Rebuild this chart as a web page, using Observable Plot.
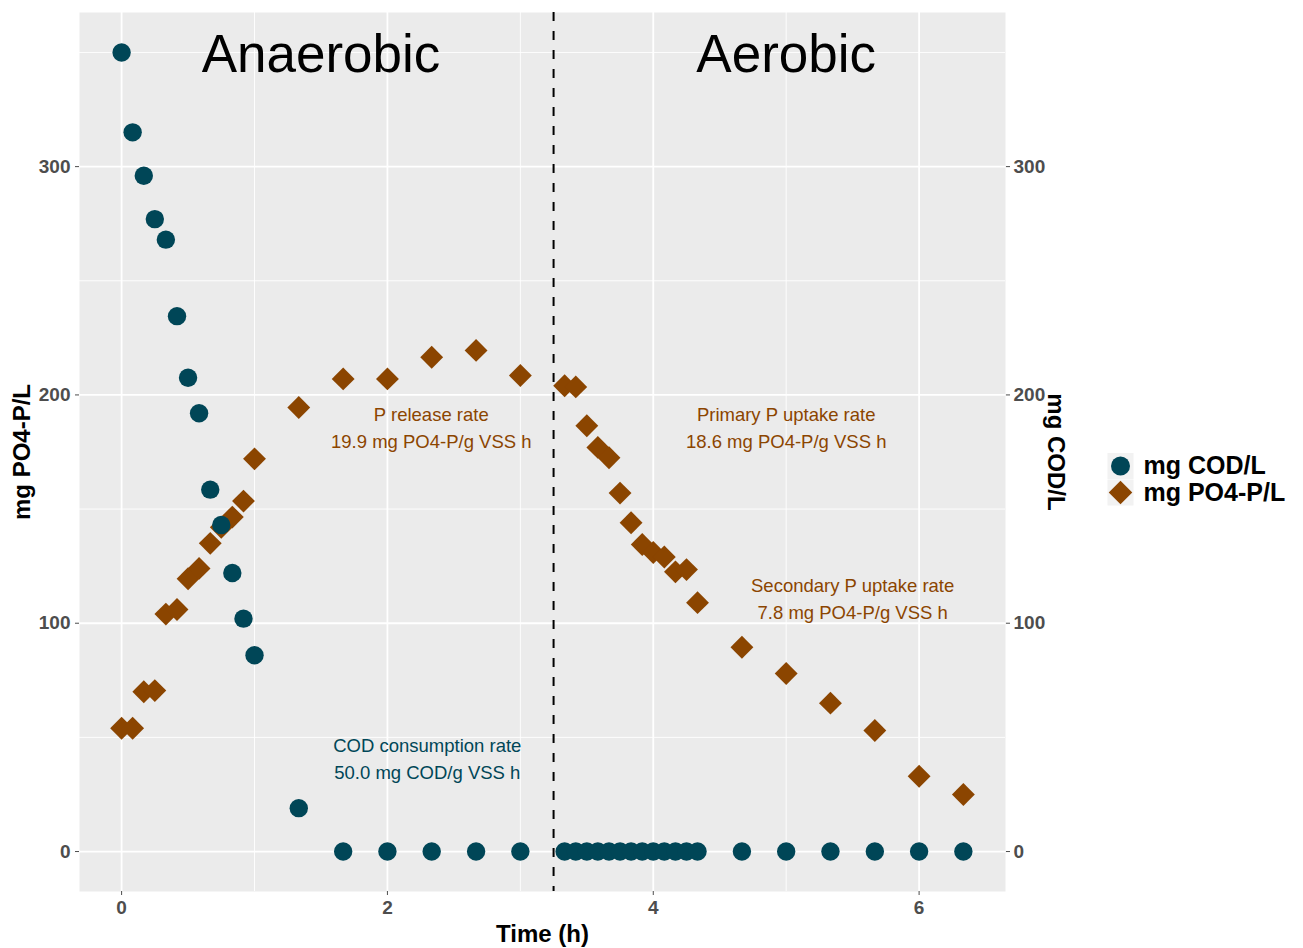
<!DOCTYPE html>
<html>
<head>
<meta charset="utf-8">
<script src="https://cdn.jsdelivr.net/npm/d3@7"></script>
<script src="https://cdn.jsdelivr.net/npm/@observablehq/plot@0.6"></script>
<style>
  html, body { margin: 0; padding: 0; background: #ffffff; }
  #chart svg { display: block; font-family: "Liberation Sans", Arial, Helvetica, sans-serif; }
</style>
</head>
<body>
<div id="chart"></div>
<script>
// ---- Data ----
const timeH = [0, 0.083, 0.167, 0.25, 0.333, 0.417, 0.5, 0.583, 0.667, 0.75, 0.833, 0.917, 1.0,
  1.333, 1.667, 2.0, 2.333, 2.667, 3.0, 3.333, 3.417, 3.5, 3.583, 3.667, 3.75, 3.833, 3.917,
  4.0, 4.083, 4.167, 4.25, 4.333, 4.667, 5.0, 5.333, 5.667, 6.0, 6.333];
const codValues = [350, 315, 296, 277, 268, 234.5, 207.5, 192, 158.5, 143, 122, 102, 86,
  19, 0, 0, 0, 0, 0, 0, 0, 0, 0, 0, 0, 0, 0,
  0, 0, 0, 0, 0, 0, 0, 0, 0, 0, 0];
const po4Values = [54, 54, 70, 70.5, 104, 106, 119.5, 124, 135, 142, 146.5, 153.5, 172,
  194.5, 207, 207, 216.5, 219.5, 208.5, 204, 203.5, 186.5, 177, 172.5, 157, 144, 134.5,
  131, 129, 122.5, 123.5, 109, 89.5, 78, 65, 53, 33, 25];
const seriesNames = ["mg COD/L", "mg PO4-P/L"];
const phaseLabels = ["Anaerobic", "Aerobic"];
const phaseX = [1.5, 5.0];
const phaseY = [349, 349];
const phaseSwitch = [3.25];
const rateLabels = [
  "P release rate\n19.9 mg PO4-P/g VSS h",
  "Primary P uptake rate\n18.6 mg PO4-P/g VSS h",
  "Secondary P uptake rate\n7.8 mg PO4-P/g VSS h",
  "COD consumption rate\n50.0 mg COD/g VSS h"
];
const rateX = [2.33, 5.0, 5.5, 2.3];
const rateY = [186.5, 186.5, 111.5, 41.3];
const rateSeries = [1, 1, 1, 0];
const xTicks = [0, 2, 4, 6];
const xMinor = [1, 3, 5];
const yTicks = [0, 100, 200, 300];
const yMinor = [50, 150, 250, 350];

// ---- Styling ----
const colors = ["#004657", "#8B4500"];
const FONT = "'Liberation Sans', Arial, Helvetica, sans-serif";

const cod = timeH.map((t, i) => ({t, v: codValues[i]}));
const po4 = timeH.map((t, i) => ({t, v: po4Values[i]}));
const phases = phaseLabels.map((label, i) => ({label, t: phaseX[i], v: phaseY[i]}));
const rates = rateLabels.map((label, i) => ({label, t: rateX[i], v: rateY[i], s: rateSeries[i]}));
const fmt = d3.format("d");

const chart = Plot.plot({
  width: 1303,
  height: 948,
  marginLeft: 79,
  marginRight: 298,
  marginTop: 12,
  marginBottom: 57,
  x: {domain: [-0.3167, 6.65]},
  y: {domain: [-17.5, 367.5]},
  style: {fontFamily: FONT, background: "#ffffff"},
  marks: [
    Plot.frame({fill: "#EBEBEB", stroke: null}),
    Plot.ruleY(yMinor, {stroke: "#ffffff", strokeWidth: 0.9}),
    Plot.ruleX(xMinor, {stroke: "#ffffff", strokeWidth: 0.9}),
    Plot.ruleY(yTicks, {stroke: "#ffffff", strokeWidth: 1.8}),
    Plot.ruleX(xTicks, {stroke: "#ffffff", strokeWidth: 1.8}),
    Plot.axisX({ticks: xTicks, tickFormat: fmt, tickSize: 4, tickPadding: 5, label: null, fontSize: 19, fontWeight: "bold", color: "#4D4D4D"}),
    Plot.axisY({anchor: "left", ticks: yTicks, tickFormat: fmt, tickSize: 4, tickPadding: 5, label: null, fontSize: 19, fontWeight: "bold", color: "#4D4D4D"}),
    Plot.axisY({anchor: "right", ticks: yTicks, tickFormat: fmt, tickSize: 4, tickPadding: 4, label: null, fontSize: 19, fontWeight: "bold", color: "#4D4D4D"}),
    Plot.ruleX(phaseSwitch, {stroke: "#000000", strokeWidth: 2, strokeDasharray: "9,10"}),
    Plot.dot(po4, {x: "t", y: "v", symbol: "diamond2", r: 10.3, fill: colors[1], stroke: null}),
    Plot.dot(cod, {x: "t", y: "v", symbol: "circle", r: 9.2, fill: colors[0], stroke: null}),
    Plot.text(phases, {x: "t", y: "v", text: "label", fontSize: 53, fill: "#000000"}),
    Plot.text(rates, {x: "t", y: "v", text: "label", fontSize: 18.5, lineHeight: 1.45, fill: d => colors[d.s]}),
    // axis titles
    Plot.text(["mg PO4-P/L"], {text: d => d, frameAnchor: "left", textAnchor: "middle", lineAnchor: "middle", dx: -57, rotate: -90, fontSize: 24, fontWeight: "bold", fill: "#000000"}),
    Plot.text(["mg COD/L"], {text: d => d, frameAnchor: "right", textAnchor: "middle", lineAnchor: "middle", dx: 50, rotate: 90, fontSize: 24, fontWeight: "bold", fill: "#000000"}),
    Plot.text(["Time (h)"], {text: d => d, frameAnchor: "bottom", textAnchor: "middle", lineAnchor: "middle", dy: 43, fontSize: 24, fontWeight: "bold", fill: "#000000"}),
    // legend
    Plot.dot([seriesNames[0]], {frameAnchor: "right", dx: 115, dy: 14, symbol: "square", r: 14.7, fill: "#F2F2F2", stroke: null}),
    Plot.dot([seriesNames[1]], {frameAnchor: "right", dx: 115, dy: 40.5, symbol: "square", r: 14.7, fill: "#F2F2F2", stroke: null}),
    Plot.dot([seriesNames[0]], {frameAnchor: "right", dx: 115, dy: 14, symbol: "circle", r: 9.5, fill: colors[0], stroke: null}),
    Plot.dot([seriesNames[1]], {frameAnchor: "right", dx: 115, dy: 40.5, symbol: "diamond2", r: 10.6, fill: colors[1], stroke: null}),
    Plot.text([seriesNames[0]], {text: d => d, frameAnchor: "right", dx: 138, dy: 14, textAnchor: "start", lineAnchor: "middle", fontSize: 25, fontWeight: "bold", fill: "#000000"}),
    Plot.text([seriesNames[1]], {text: d => d, frameAnchor: "right", dx: 138, dy: 40.5, textAnchor: "start", lineAnchor: "middle", fontSize: 25, fontWeight: "bold", fill: "#000000"})
  ]
});
document.getElementById("chart").appendChild(chart);
</script>
</body>
</html>
